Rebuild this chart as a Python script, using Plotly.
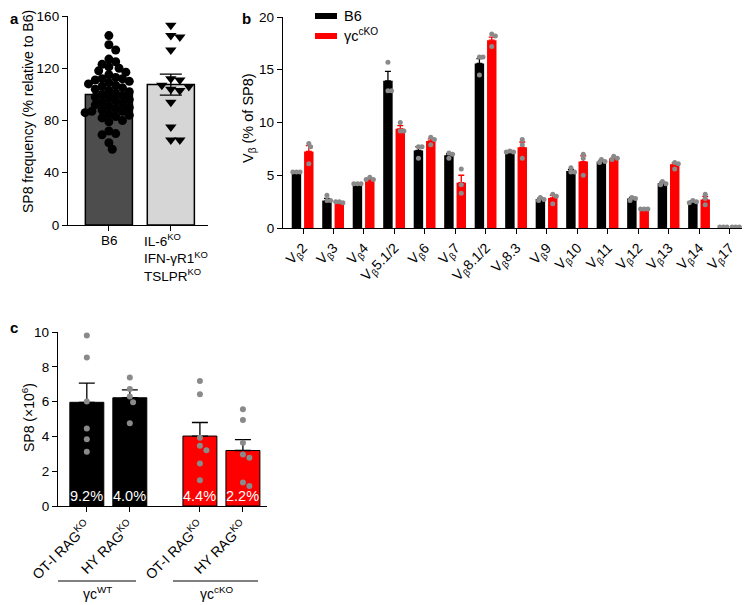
import numpy as np
import plotly.graph_objects as go

FONT = "Arial, Liberation Sans, Helvetica, sans-serif"
# the page body has an 8px margin, so the figure starts at (8, 8) in the window
OFF = 8
W, H = 750 - OFF, 605 - OFF

# ---------------- DATA ----------------
# Panel a
a_groups = ["B6", "IL-6<sup>KO</sup><br>IFN-γR1<sup>KO</sup><br>TSLPR<sup>KO</sup>"]
a_b6_points = [145, 138, 134, 127, 125, 123, 121, 120, 118, 117, 115, 113, 112, 112, 111,
               110, 109, 108, 107, 106, 105, 104, 103, 102, 101, 100, 99, 98, 97, 96, 95,
               94, 93, 92, 91, 90, 89, 88, 87, 87, 86, 85, 84, 83, 82, 80, 79, 72, 70, 69,
               63, 58]
a_ko_points = [153, 145, 144, 134, 112, 111, 107, 106, 104, 103, 94, 75, 65, 65]
a_means = [100, 107.5]
a_sem = [2.2, 8.0]

# Panel b
b_labels = ["V<sub>β</sub>2", "V<sub>β</sub>3", "V<sub>β</sub>4", "V<sub>β</sub>5.1/2",
            "V<sub>β</sub>6", "V<sub>β</sub>7", "V<sub>β</sub>8.1/2", "V<sub>β</sub>8.3",
            "V<sub>β</sub>9", "V<sub>β</sub>10", "V<sub>β</sub>11", "V<sub>β</sub>12",
            "V<sub>β</sub>13", "V<sub>β</sub>14", "V<sub>β</sub>17"]
b_b6_mean = [5.25, 2.6, 4.1, 13.95, 7.35, 6.9, 15.6, 7.25, 2.75, 5.4, 6.3, 2.8, 4.25, 2.5, 0.1]
b_cko_mean = [7.25, 2.45, 4.6, 9.4, 8.25, 4.3, 17.8, 7.65, 2.85, 6.3, 6.6, 1.8, 6.05, 2.7, 0.1]
b_b6_sem = [0.05, 0.2, 0.05, 0.9, 0.35, 0.15, 0.45, 0.05, 0.1, 0.15, 0.1, 0.1, 0.1, 0.07, 0.02]
b_cko_sem = [0.55, 0.05, 0.1, 0.3, 0.2, 0.7, 0.3, 0.5, 0.25, 0.55, 0.1, 0.03, 0.15, 0.3, 0.02]
b_b6_points = [[5.3, 5.3, 5.3], [3.1, 2.6, 2.6], [4.2, 4.2, 4.2], [15.7, 13.0, 13.0],
               [7.7, 7.7, 6.6], [7.1, 7.0, 6.6], [16.2, 16.2, 14.5], [7.3, 7.2, 7.2],
               [2.9, 2.7, 2.6], [5.7, 5.3, 5.3], [6.5, 6.3, 6.2], [2.9, 2.8, 2.6],
               [4.4, 4.2, 4.1], [2.6, 2.5, 2.4], [0.1, 0.1, 0.1]]
b_cko_points = [[8.0, 7.7, 6.1], [2.5, 2.4, 2.5], [4.8, 4.6, 4.6], [10.0, 9.2, 9.2],
                [8.6, 8.4, 7.9], [5.6, 4.1, 3.3], [18.4, 18.2, 17.2], [8.4, 7.9, 6.6],
                [3.2, 3.0, 2.3], [7.0, 6.6, 5.0], [6.8, 6.6, 6.5], [1.8, 1.8, 1.8],
                [6.2, 6.1, 5.6], [3.2, 2.8, 2.2], [0.1, 0.1, 0.1]]

# Panel c
c_labels = ["OT-I RAG<sup>KO</sup>", "HY RAG<sup>KO</sup>", "OT-I RAG<sup>KO</sup>", "HY RAG<sup>KO</sup>"]
c_groups = ["γc<sup>WT</sup>", "γc<sup>cKO</sup>"]
c_means = [5.96, 6.22, 4.02, 3.19]
c_sem = [1.1, 0.45, 0.78, 0.62]
c_pct = ["9.2%", "4.0%", "4.4%", "2.2%"]
c_points = [[9.8, 8.54, 6.0, 4.46, 3.83, 3.12],
            [7.38, 6.73, 6.29, 5.96, 4.75],
            [7.19, 6.42, 3.92, 3.46, 3.21, 2.44, 1.48],
            [5.56, 4.94, 3.63, 2.96, 2.77, 1.35, 1.15]]

# ---------------- HELPERS ----------------
def PX(x):
    return (x - OFF) / W

def PY(y):
    return 1 - (y - OFF) / H

def swarm(vals, ypx, d):
    """simple beeswarm: horizontal pixel offsets avoiding overlap"""
    step = d / 2
    placed, out = [], []
    cands = [0.0]
    for i in range(1, 80):
        cands += [i * step, -i * step]
    for v in vals:
        y = v * ypx
        chosen = cands[-1]
        for cx in cands:
            if all((cx - px) ** 2 + (y - py) ** 2 >= d * d * 0.999 for px, py in placed):
                chosen = cx
                break
        placed.append((chosen, y))
        out.append(chosen)
    return out

GRAY = "#8a8a8a"
RED = "#ff0000"

fig = go.Figure()

# ---------------- PANEL A ----------------
a_dom_x = [PX(68), PX(208)]
a_dom_y = [PY(225), PY(16)]
a_xr = [-0.66, 1.6]
a_xpx = (208 - 68) / (a_xr[1] - a_xr[0])
a_ypx = (225 - 16) / 160.0

fig.add_trace(go.Bar(x=[0], y=[a_means[0]], width=0.76, xaxis="x", yaxis="y",
                     marker=dict(color="#4d4d4d", line=dict(color="black", width=1.5)),
                     error_y=dict(type="data", array=[a_sem[0]], color="black", thickness=1.3, width=6),
                     showlegend=False))
fig.add_trace(go.Bar(x=[1], y=[a_means[1]], width=0.76, xaxis="x", yaxis="y",
                     marker=dict(color="#d6d6d6", line=dict(color="black", width=1.5)),
                     error_y=dict(type="data", array=[a_sem[1]], color="black", thickness=1.3, width=11),
                     showlegend=False))
off = swarm(a_b6_points, a_ypx, 6.8)
fig.add_trace(go.Scatter(x=[0 + o / a_xpx for o in off], y=a_b6_points, mode="markers",
                         xaxis="x", yaxis="y",
                         marker=dict(symbol="circle", size=9, color="black"), showlegend=False))
off = swarm(a_ko_points, a_ypx, 9)
fig.add_trace(go.Scatter(x=[1 + o / a_xpx for o in off], y=a_ko_points, mode="markers",
                         xaxis="x", yaxis="y",
                         marker=dict(symbol="triangle-down", size=10, color="black"), showlegend=False))

# ---------------- PANEL B ----------------
b_dom_x = [PX(283), PX(747)]
b_dom_y = [PY(228), PY(17)]
b_xr = [-0.656, 14.56]
b_xpx = (747 - 283) / (b_xr[1] - b_xr[0])
b_ypx = (228 - 17) / 20.0
bw = 0.31
b_off = [-0.37 + bw / 2, 0.035 + bw / 2]
idx = np.arange(len(b_labels))

for k, (means, sems, pts, col) in enumerate([(b_b6_mean, b_b6_sem, b_b6_points, "black"),
                                              (b_cko_mean, b_cko_sem, b_cko_points, RED)]):
    fig.add_trace(go.Bar(x=idx + b_off[k], y=means, width=bw, xaxis="x2", yaxis="y2",
                         marker=dict(color=col, line=dict(width=0)),
                         error_y=dict(type="data", symmetric=False, array=sems,
                                      arrayminus=[0] * len(sems), color=col, thickness=1.3, width=3),
                         showlegend=False))
    xs, ys = [], []
    for i, p in enumerate(pts):
        o = swarm(p, b_ypx, 3.6)
        xs += [i + b_off[k] + q / b_xpx for q in o]
        ys += p
    fig.add_trace(go.Scatter(x=xs, y=ys, mode="markers", xaxis="x2", yaxis="y2",
                             marker=dict(size=5, color=GRAY), showlegend=False))

# ---------------- PANEL C ----------------
c_dom_x = [PX(58), PX(267)]
c_dom_y = [PY(506), PY(332)]
c_gap = 2.63
c_x = [g * c_gap + j for g in range(2) for j in range(2)]
c_xr = [-0.67, 4.19]
c_xpx = (267 - 58) / (c_xr[1] - c_xr[0])
c_ypx = (506 - 332) / 10.0
c_cols = ["black", "black", RED, RED]

fig.add_trace(go.Bar(x=c_x, y=c_means, width=0.79, xaxis="x3", yaxis="y3",
                     marker=dict(color=c_cols, line=dict(color="black", width=1)),
                     error_y=dict(type="data", symmetric=False, array=c_sem,
                                  arrayminus=[0] * 4, color="black", thickness=1.3, width=8),
                     showlegend=False))
xs, ys = [], []
for i, p in enumerate(c_points):
    o = swarm(p, c_ypx, 6.5)
    xs += [c_x[i] + q / c_xpx for q in o]
    ys += p
fig.add_trace(go.Scatter(x=xs, y=ys, mode="markers", xaxis="x3", yaxis="y3",
                         marker=dict(size=6, color=GRAY), showlegend=False))

# ---------------- AXES ----------------
ax_common = dict(showline=True, linecolor="black", linewidth=1.3, ticks="outside",
                 ticklen=5, tickwidth=1.3, tickcolor="black", showgrid=False, zeroline=False,
                 automargin=False, tickfont=dict(size=13.5, color="black", family=FONT))

fig.update_layout(
    template="none",
    xaxis=dict(domain=a_dom_x, range=a_xr, tickvals=[0, 1], showticklabels=False,
               anchor="y", **ax_common),
    yaxis=dict(domain=a_dom_y, range=[0, 160], tickvals=[0, 40, 80, 120, 160],
               anchor="x", **ax_common),
    xaxis2=dict(domain=b_dom_x, range=b_xr, tickvals=list(idx), ticktext=b_labels,
                tickangle=-45, anchor="y2", **ax_common),
    yaxis2=dict(domain=b_dom_y, range=[0, 20], tickvals=[0, 5, 10, 15, 20],
                anchor="x2", **ax_common),
    xaxis3=dict(domain=c_dom_x, range=c_xr, tickvals=c_x, ticktext=c_labels,
                tickangle=-45, anchor="y3", **ax_common),
    yaxis3=dict(domain=c_dom_y, range=[0, 10], tickvals=[0, 2, 4, 6, 8, 10],
                anchor="x3", **ax_common),
)
fig.update_layout(xaxis2_tickfont_size=14, xaxis3_tickfont_size=14)

# ---------------- ANNOTATIONS / SHAPES ----------------
ann = []
shapes = []
def txt(x, y, text, size=13, xanchor="center", yanchor="middle", angle=0, color="black",
        align="center"):
    ann.append(dict(x=PX(x), y=PY(y), xref="paper", yref="paper", text=text, showarrow=False,
                    xanchor=xanchor, yanchor=yanchor, textangle=angle, align=align,
                    font=dict(size=size, color=color, family=FONT)))

# panel letters (kept inside the figure's top edge)
txt(8, 8, "<b>a</b>", size=15, xanchor="left", yanchor="top")
txt(240, 8, "<b>b</b>", size=15, xanchor="left", yanchor="top")
txt(8, 327, "<b>c</b>", size=15, xanchor="left")

# axis titles
txt(28, 112, "SP8 frequency (% relative to B6)", size=14, angle=-90)
txt(249, 118, "V<sub>β</sub> (% of SP8)", size=14.5, angle=-90)
txt(28, 418, "SP8 (×10<sup>6</sup>)", size=14, angle=-90)

# panel a x labels
txt(109, 231, a_groups[0], size=13.5, yanchor="top")
ann.append(dict(x=PX(142), y=PY(229), xref="paper", yref="paper", text=a_groups[1],
                showarrow=False, xanchor="left", yanchor="top", align="left",
                font=dict(size=13.5, color="black", family=FONT)))

# panel b legend
shapes.append(dict(type="rect", xref="paper", yref="paper", x0=PX(315), x1=PX(337),
                   y0=PY(19), y1=PY(13), fillcolor="black", line=dict(width=0)))
shapes.append(dict(type="rect", xref="paper", yref="paper", x0=PX(315), x1=PX(337),
                   y0=PY(39), y1=PY(33), fillcolor=RED, line=dict(width=0)))
txt(342, 16, "B6", size=14.5, xanchor="left")
txt(342, 35, "γc<sup>cKO</sup>", size=14.5, xanchor="left")

# panel c percentages inside bars
for i in range(4):
    ann.append(dict(x=c_x[i], y=0, xref="x3", yref="y3", text=c_pct[i], showarrow=False,
                    xanchor="center", yanchor="bottom", yshift=0,
                    font=dict(size=14.5, color="white", family=FONT)))

# panel c group lines and labels
shapes.append(dict(type="line", xref="paper", yref="paper", x0=PX(58), x1=PX(136),
                   y0=PY(581), y1=PY(581), line=dict(color="black", width=1)))
shapes.append(dict(type="line", xref="paper", yref="paper", x0=PX(173), x1=PX(258),
                   y0=PY(581), y1=PY(581), line=dict(color="black", width=1)))
txt(97, 593, c_groups[0], size=14)
txt(216, 593, c_groups[1], size=14)

fig.update_layout(annotations=ann, shapes=shapes, width=W, height=H,
                  margin=dict(l=0, r=0, t=0, b=0, pad=0), plot_bgcolor="white",
                  paper_bgcolor="white", font=dict(family=FONT, color="black"),
                  barmode="overlay")

fig.write_html("out.html")
